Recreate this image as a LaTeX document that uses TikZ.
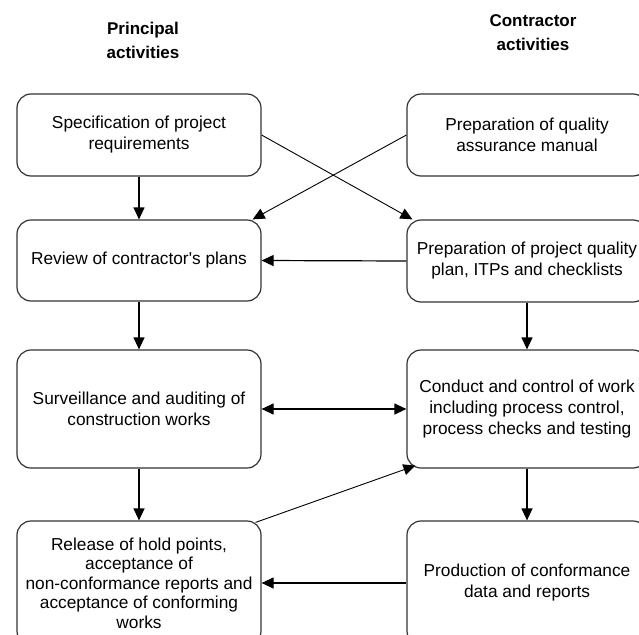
\documentclass[tikz,border=0pt]{standalone}
\usepackage{fontspec}
\setmainfont{Liberation Sans}
\newfontfamily\bodyfont{Liberation Sans}
\usetikzlibrary{arrows.meta,calc}
\begin{document}
\begin{tikzpicture}[x=1pt,y=-1pt,
  box/.style={draw=black!80, line width=1.2pt, rounded corners=14pt, minimum width=244pt, align=center, inner sep=0pt, font=\bodyfont\fontsize{17.3}{21}\selectfont},
  rbox/.style={box, minimum width=240pt},
  hdr/.style={align=center, font=\bodyfont\fontsize{17}{24}\selectfont\bfseries},
  arr/.style={line width=1.2pt, -{Triangle[width=11pt,length=12pt]}},
  darr/.style={line width=1.2pt, {Triangle[width=11pt,length=12pt]}-{Triangle[width=11pt,length=12pt]}},
  thin arr/.style={line width=0.9pt, -{Triangle[width=11pt,length=12pt]}}]
\clip (0,0) rectangle (639,634);
\fill[white] (0,0) rectangle (639,634);
\node[hdr] (h1) at (143,40) {Principal\\activities};
\node[hdr] (h2) at (533,33) {Contractor\\activities};
\node[box, minimum height=82pt] (A) at (139,135) {Specification of project\\requirements};
\node[rbox, minimum height=82pt] (B) at (527,135) {Preparation of quality\\assurance manual};
\node[box, minimum height=81pt] (C) at (139,260.5) {Review of contractor's plans};
\node[rbox, minimum height=82pt] (D) at (527,261) {Preparation of project quality\\plan, ITPs and checklists};
\node[box, minimum height=118pt] (E) at (139,409) {Surveillance and auditing of\\construction works};
\node[rbox, minimum height=118pt] (F) at (527,409) {Conduct and control of work\\including process control,\\process checks and testing};
\node[box, minimum height=124pt, font=\bodyfont\fontsize{17.3}{19.5}\selectfont] (G) at (139,583) {Release of hold points,\\acceptance of\\non-conformance reports and\\acceptance of conforming\\works};
\node[rbox, minimum height=124pt] (H) at (527,583) {Production of conformance\\data and reports};
\draw[arr] (A.south) -- (C.north);
\draw[thin arr] (A.east) -- ($(D.north west)+(6,0)$);
\draw[thin arr] (B.west) -- ($(C.north east)+(-9,0)$);
\draw[arr] (D.west) -- (C.east);
\draw[arr] (C.south) -- (E.north);
\draw[arr] (D.south) -- (F.north);
\draw[darr] (E.east) -- (F.west);
\draw[arr] (E.south) -- (G.north);
\draw[thin arr] ($(G.north east)+(-6,2)$) -- ($(F.south west)+(9,-3)$);
\draw[arr] (F.south) -- (H.north);
\draw[arr] (H.west) -- (G.east);
\end{tikzpicture}
\end{document}
